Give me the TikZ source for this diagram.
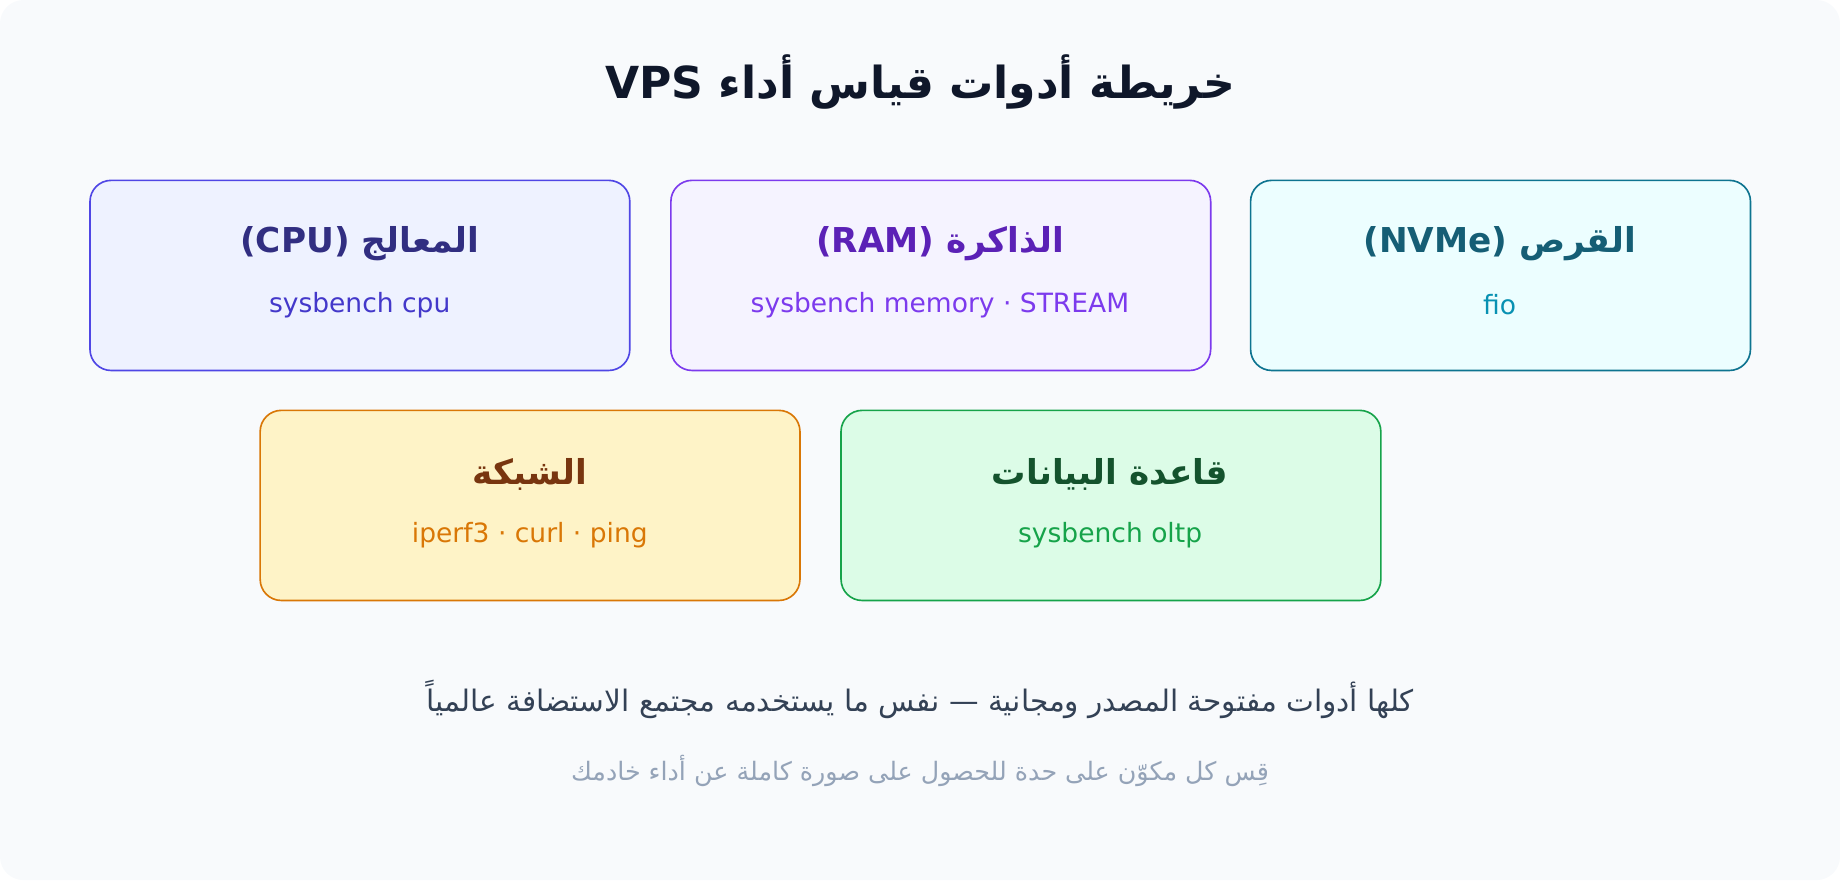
\documentclass[tikz,border=0pt]{standalone}
\usepackage{fontspec}
\setmainfont{DejaVu Sans}
\newfontfamily\arfont[Script=Arabic]{DejaVu Sans}
\TeXXeTstate=1
\newcommand{\ar}[1]{{\arfont\beginR #1\endR}}
\definecolor{bg}{HTML}{F8FAFC}
\definecolor{cpuB}{HTML}{4F46E5}\definecolor{cpuF}{HTML}{EEF2FF}\definecolor{cpuT}{HTML}{312E81}\definecolor{cpuS}{HTML}{4338CA}
\definecolor{ramB}{HTML}{7C3AED}\definecolor{ramF}{HTML}{F5F3FF}\definecolor{ramT}{HTML}{5B21B6}\definecolor{ramS}{HTML}{7C3AED}
\definecolor{dskB}{HTML}{0E7490}\definecolor{dskF}{HTML}{ECFEFF}\definecolor{dskT}{HTML}{155E75}\definecolor{dskS}{HTML}{0891B2}
\definecolor{netB}{HTML}{D97706}\definecolor{netF}{HTML}{FEF3C7}\definecolor{netT}{HTML}{78350F}\definecolor{netS}{HTML}{D97706}
\definecolor{dbB}{HTML}{16A34A}\definecolor{dbF}{HTML}{DCFCE7}\definecolor{dbT}{HTML}{14532D}\definecolor{dbS}{HTML}{16A34A}
\definecolor{ttlC}{HTML}{0F172A}\definecolor{ft1}{HTML}{334155}\definecolor{ft2}{HTML}{94A3B8}
\begin{document}
\begin{tikzpicture}[x=0.5pt,y=-0.5pt,
  box/.style={draw,rounded corners=9pt,line width=0.7pt,minimum width=230pt,minimum height=81pt,anchor=north west},
  ttl/.style={font=\fontsize{14.6}{17}\selectfont\bfseries},
  sub/.style={font=\fontsize{11.3}{14}\selectfont}]
\fill[bg,rounded corners=10pt] (0,0) rectangle (1568,750);
\useasboundingbox (0,0) rectangle (1568,750);
\node[font=\fontsize{18.8}{23}\selectfont\bfseries,text=ttlC] (title) at (784,70) {VPS \ar{خريطة أدوات قياس أداء}};
% boxes
\node[box,draw=cpuB,fill=cpuF] (cpu) at (76,153) {};
\node[box,draw=ramB,fill=ramF] (ram) at (571,153) {};
\node[box,draw=dskB,fill=dskF,minimum width=213pt] (disk) at (1065,153) {};
\node[box,draw=netB,fill=netF] (net) at (221,349) {};
\node[box,draw=dbB,fill=dbF] (db) at (716,349) {};
% labels
\node[ttl,text=cpuT] (cpuT) at (306.5,208) {(CPU) \ar{المعالج}};
\node[sub,text=cpuS] (cpuS) at (306.5,260) {sysbench cpu};
\node[ttl,text=ramT] (ramT) at (801,208) {(RAM) \ar{الذاكرة}};
\node[sub,text=ramS] (ramS) at (801,260) {sysbench memory · STREAM};
\node[ttl,text=dskT] (dskT) at (1278,208) {(NVMe) \ar{القرص}};
\node[sub,text=dskS] (dskS) at (1278,260) {fio};
\node[ttl,text=netT] (netT) at (451.5,404) {\ar{الشبكة}};
\node[sub,text=netS] (netS) at (451.5,456) {iperf3 · curl · ping};
\node[ttl,text=dbT] (dbT) at (946,404) {\ar{قاعدة البيانات}};
\node[sub,text=dbS] (dbS) at (946,456) {sysbench oltp};
% footer
\node[font=\fontsize{12.6}{15}\selectfont,text=ft1] (f1) at (784,596) {\ar{كلها أدوات مفتوحة المصدر ومجانية — نفس ما يستخدمه مجتمع الاستضافة عالمياً}};
\node[font=\fontsize{10.8}{13}\selectfont,text=ft2] (f2) at (784,657) {\ar{قِس كل مكوّن على حدة للحصول على صورة كاملة عن أداء خادمك}};
\end{tikzpicture}
\end{document}
